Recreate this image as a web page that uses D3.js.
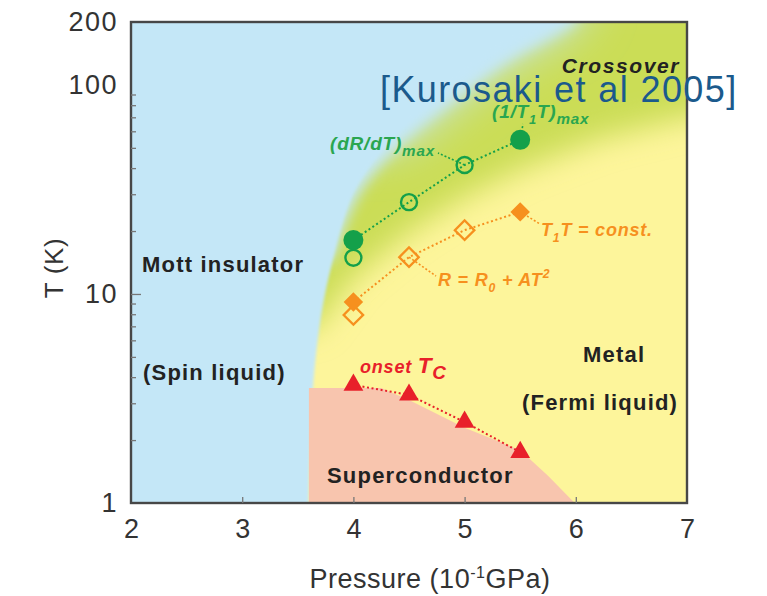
<!DOCTYPE html>
<html>
<head>
<meta charset="utf-8">
<script src="https://cdn.jsdelivr.net/npm/d3@7/dist/d3.min.js"></script>
<style>
  html, body { margin: 0; padding: 0; background: #ffffff; }
  svg { display: block; font-family: "Liberation Sans", Arial, Helvetica, sans-serif; }
</style>
</head>
<body>
<svg id="chart" width="767" height="596"></svg>
<script>
// ---- axis ticks ----
const xTicks = [2, 3, 4, 5, 6, 7];
const xInnerTicks = [3, 4, 5, 6];
const yTickLabels = [1, 10, 100, 200];
const yMinorTicks = [2, 3, 4, 5, 6, 7, 8, 9, 20, 30, 40, 50, 60, 70, 80, 90];
const yMajorTicks = [10];

// ---- measured points: pressure (10^-1 GPa), temperature (K) ----
// (1/T1T)max : filled circles
const t1tMaxP = [4.0, 5.5];
const t1tMaxT = [18.1, 54.6];
// (dR/dT)max : open circles
const dRdTP = [4.0, 4.5, 5.0];
const dRdTT = [14.9, 27.5, 41.4];
// T1T = const. : filled diamonds
const t1tConstP = [4.0, 5.5];
const t1tConstT = [9.16, 24.7];
// R = R0 + AT^2 : open diamonds
const fermiP = [4.0, 4.5, 5.0];
const fermiT = [7.94, 15.0, 20.2];
// onset Tc : triangles
const tcP = [4.0, 4.5, 5.0, 5.5];
const tcT = [3.67, 3.29, 2.44, 1.75];

// ---- phase boundaries ----
const mottEdgeP = [3.60, 3.637, 3.691, 3.745, 3.817, 3.906, 4.077, 4.419, 4.914, 5.408, 5.903, 5.993, 6.10];
const mottEdgeT = [1.0, 3.55, 6.72, 10, 14.5, 20.2, 31.5, 51.5, 84.7, 131.8, 183.5, 200, 260];
const crossLowP = [3.655, 3.996, 4.5, 4.995, 5.498, 6.218, 7.117, 7.6];
const crossLowT = [6.72, 11.9, 19.8, 29.0, 39.5, 55.5, 72.5, 78];
const scEdgeP = [3.60, 3.60, 4.25, 4.5, 5.0, 5.5, 5.75, 5.99];
const scEdgeT = [1.0, 3.55, 3.55, 3.11, 2.29, 1.79, 1.35, 1.0];

// ---- colours ----
const C = {
  blue: "#c4e7f7", yellow: "#fdf59b", green: "#cbdd56", salmon: "#f8c5ae",
  greenMark: "#14a04a", greenText: "#2aa650", orange: "#f6901e", red: "#e8202a",
  frame: "#474747", text: "#222222", axisText: "#333333", cite: "#1b5a8c"
};

const svg = d3.select("#chart");
const M = { left: 131, right: 687, top: 22, bottom: 503 };
const x = d3.scaleLinear().domain([2, 7]).range([M.left, M.right]);
const y = d3.scaleLog().domain([1, 200]).range([M.bottom, M.top]);

const defs = svg.append("defs");
defs.append("clipPath").attr("id", "plotClip")
  .append("rect").attr("x", M.left).attr("y", M.top)
  .attr("width", M.right - M.left).attr("height", M.bottom - M.top);
[1.5, 7, 15, 24].forEach(s => {
  defs.append("filter").attr("id", "blur" + String(s).replace(".", "_"))
    .attr("x", "-60%").attr("y", "-60%").attr("width", "220%").attr("height", "220%")
    .append("feGaussianBlur").attr("stdDeviation", s);
});

const zip = (ps, ts) => ps.map((p, i) => [p, ts[i]]);
const px = d => [x(d[0]), y(d[1])];
const lineSmooth = d3.line().curve(d3.curveCatmullRom.alpha(0.5));

// ---- background phases ----
const bg = svg.append("g").attr("clip-path", "url(#plotClip)");
bg.append("rect").attr("x", M.left).attr("y", M.top)
  .attr("width", M.right - M.left).attr("height", M.bottom - M.top)
  .attr("fill", C.yellow);

const mottPix = zip(mottEdgeP, mottEdgeT).map(px);

// crossover band, tucked under the insulating region
const crossUpper = mottPix.slice(2).map(([a, b]) => [a - 45, b]);
const crossLower = zip(crossLowP, crossLowT).map(px);
bg.append("g").attr("filter", "url(#blur15)")
  .append("path").attr("d", lineSmooth(crossUpper) + "L" + [x(7.6), y(260)] + "L" +
    crossLower.slice().reverse().map(p => p.join(",")).join("L") + "Z")
  .attr("fill", C.green);

// insulating side: soft edge at high T, sharp edge at low T
const shift = py => 38 * Math.pow(Math.max(0, Math.min(1, (270 - py) / 248)), 1.5);
const leftX = M.left - 40;

// region left of an edge; closes down to the plot bottom or straight across at the first point
function bluePath(pts, toBottom) {
  const first = pts[0], last = pts[pts.length - 1];
  const lowY = toBottom ? M.bottom + 40 : first[1];
  return lineSmooth(pts) + "L" + [last[0], M.top - 60] + "L" + [leftX, M.top - 60] +
    "L" + [leftX, lowY] + "L" + [first[0], lowY] + "Z";
}
const upper1 = mottPix.filter(p => p[1] < y(14));
bg.append("g").attr("filter", "url(#blur7)")
  .append("path").attr("d", bluePath(upper1, false)).attr("fill", C.blue);
const upper2 = mottPix.filter(p => p[1] < y(45));
bg.append("g").attr("filter", "url(#blur24)")
  .append("path").attr("d", bluePath(upper2, false)).attr("fill", C.blue);
const corePix = mottPix.map(([a, b]) => [a - shift(b), b]);
bg.append("g").attr("filter", "url(#blur1_5)")
  .append("path").attr("d", bluePath(corePix, true)).attr("fill", C.blue);

// superconducting dome
bg.append("path")
  .attr("d", d3.line()(zip(scEdgeP, scEdgeT).map(px)) + "L" + [x(6.2), M.bottom + 5] + "L" + [x(3.6), M.bottom + 5] + "Z")
  .attr("fill", C.salmon);

// ---- frame & ticks ----
svg.append("rect").attr("x", M.left).attr("y", M.top)
  .attr("width", M.right - M.left).attr("height", M.bottom - M.top)
  .attr("fill", "none").attr("stroke", C.frame).attr("stroke-width", 2.4);

const minorAxis = svg.append("g").attr("transform", `translate(${M.left},0)`)
  .call(d3.axisRight(y).tickValues(yMinorTicks).tickSize(5).tickFormat(""));
const majorAxis = svg.append("g").attr("transform", `translate(${M.left},0)`)
  .call(d3.axisRight(y).tickValues(yMajorTicks).tickSize(10).tickFormat(""));
const xInner = svg.append("g").attr("transform", `translate(0,${M.bottom})`)
  .call(d3.axisTop(x).tickValues(xInnerTicks).tickSize(6).tickFormat(""));
[minorAxis, majorAxis, xInner].forEach(g => {
  g.select(".domain").remove();
  g.selectAll("line").attr("stroke", "#777").attr("stroke-width", 1.3);
});

const yLab = svg.append("g").attr("transform", `translate(${M.left},0)`)
  .call(d3.axisLeft(y).tickValues(yTickLabels).tickSize(0).tickPadding(13).tickFormat(d3.format("d")));
const xLab = svg.append("g").attr("transform", `translate(0,${M.bottom})`)
  .call(d3.axisBottom(x).tickValues(xTicks).tickSize(0).tickPadding(16).tickFormat(d3.format("d")));
[yLab, xLab].forEach(g => {
  g.select(".domain").remove();
  g.selectAll("text").attr("font-size", 27).attr("fill", C.axisText)
    .attr("font-family", "'Liberation Sans', Arial, sans-serif");
});
yLab.selectAll("text").attr("letter-spacing", 1.5);

svg.append("text").attr("transform", "translate(63,268) rotate(-90)")
  .attr("text-anchor", "middle").attr("font-size", 26).attr("fill", C.axisText)
  .attr("letter-spacing", 0.6).text("T (K)");
const xt = svg.append("text").attr("x", 430).attr("y", 588)
  .attr("text-anchor", "middle").attr("font-size", 27).attr("fill", C.axisText)
  .attr("letter-spacing", 0.5);
xt.append("tspan").text("Pressure (10");
xt.append("tspan").attr("font-size", 16).attr("dy", -10).text("-1");
xt.append("tspan").attr("dy", 10).text("GPa)");

// ---- dotted connecting lines ----
const dotted = (pts, col) => svg.append("path").attr("d", d3.line()(pts.map(px)))
  .attr("fill", "none").attr("stroke", col).attr("stroke-width", 2)
  .attr("stroke-dasharray", "2,2.6");
dotted([[t1tMaxP[0], t1tMaxT[0]], [dRdTP[1], dRdTT[1]], [dRdTP[2], dRdTT[2]], [t1tMaxP[1], t1tMaxT[1]]], C.greenMark);
dotted([[t1tConstP[0], t1tConstT[0]], [fermiP[1], fermiT[1]], [fermiP[2], fermiT[2]], [t1tConstP[1], t1tConstT[1]]], C.orange);
dotted(zip(tcP, tcT), C.red);

// leader lines from markers to their labels
const leader = (from, to, col) => svg.append("line")
  .attr("x1", x(from[0])).attr("y1", y(from[1])).attr("x2", to[0]).attr("y2", to[1])
  .attr("stroke", col).attr("stroke-width", 1.6).attr("stroke-dasharray", "2,2");
leader([dRdTP[2], dRdTT[2]], [438, 153], C.greenMark);
leader([t1tMaxP[1], t1tMaxT[1]], [523, 124], C.greenMark);
leader([t1tConstP[1], t1tConstT[1]], [540, 224], C.orange);
leader([fermiP[1], fermiT[1]], [436, 276], C.orange);

// ---- markers ----
const mk = svg.append("g");
mk.selectAll(".oc").data(zip(dRdTP, dRdTT)).join("circle")
  .attr("cx", d => x(d[0])).attr("cy", d => y(d[1])).attr("r", 8)
  .attr("fill", "none").attr("stroke", C.greenMark).attr("stroke-width", 2.4);
mk.selectAll(".fc").data(zip(t1tMaxP, t1tMaxT)).join("circle")
  .attr("cx", d => x(d[0])).attr("cy", d => y(d[1])).attr("r", 10)
  .attr("fill", C.greenMark);
const diamond = d3.symbol(d3.symbolSquare, 190);
mk.selectAll(".od").data(zip(fermiP, fermiT)).join("path")
  .attr("d", diamond).attr("transform", d => `translate(${x(d[0])},${y(d[1])}) rotate(45)`)
  .attr("fill", "none").attr("stroke", C.orange).attr("stroke-width", 2.3);
mk.selectAll(".fd").data(zip(t1tConstP, t1tConstT)).join("path")
  .attr("d", diamond).attr("transform", d => `translate(${x(d[0])},${y(d[1])}) rotate(45)`)
  .attr("fill", C.orange);
mk.selectAll(".tr").data(zip(tcP, tcT)).join("path")
  .attr("d", d3.symbol(d3.symbolTriangle, 170))
  .attr("transform", d => `translate(${x(d[0])},${y(d[1])})`)
  .attr("fill", C.red);

// ---- phase labels ----
const label = (tx, ty, txt, opts = {}) => svg.append("text").attr("x", tx).attr("y", ty)
  .attr("font-size", opts.size || 22).attr("font-weight", "bold")
  .attr("font-style", opts.italic ? "italic" : "normal")
  .attr("letter-spacing", opts.ls != null ? opts.ls : 1.2)
  .attr("text-anchor", opts.anchor || "start")
  .attr("fill", opts.fill || C.text).text(txt);
label(142, 272, "Mott insulator");
label(143, 380, "(Spin liquid)");
label(583, 362, "Metal");
label(522, 410, "(Fermi liquid)");
label(327, 483, "Superconductor");
label(680, 73, "Crossover", { italic: true, anchor: "end", size: 21, ls: 1.6 });

// series labels
function richLabel(tx, ty, parts, col, size) {
  const t = svg.append("text").attr("x", tx).attr("y", ty).attr("font-size", size)
    .attr("font-style", "italic").attr("font-weight", "bold").attr("fill", col)
    .attr("letter-spacing", 0.8);
  let off = 0;
  parts.forEach(p => {
    const s = t.append("tspan").text(p.t);
    const want = p.sub ? 6 : p.sup ? -8 : 0;
    s.attr("dy", want - off);
    off = want;
    if (p.sub || p.sup || p.scale) s.attr("font-size", size * (p.scale || 0.68));
  });
  return t;
}
richLabel(492, 118, [{ t: "(1/T" }, { t: "1", sub: true }, { t: "T)" }, { t: "max", sub: true, scale: 0.8 }], C.greenText, 19);
richLabel(330, 150, [{ t: "(dR/dT)" }, { t: "max", sub: true, scale: 0.8 }], C.greenText, 19);
richLabel(541, 236, [{ t: "T" }, { t: "1", sub: true }, { t: "T = const." }], C.orange, 18);
richLabel(438, 286, [{ t: "R = R" }, { t: "0", sub: true }, { t: " + AT" }, { t: "2", sup: true }], C.orange, 18);
richLabel(360, 373, [{ t: "onset " }, { t: "T", scale: 1.25 }, { t: "C", sub: true, scale: 1.05 }], C.red, 18);

// citation
svg.append("text").attr("x", 380).attr("y", 102).attr("font-size", 36)
  .attr("letter-spacing", 1.4).attr("fill", C.cite).text("[Kurosaki et al 2005]");
</script>
</body>
</html>
